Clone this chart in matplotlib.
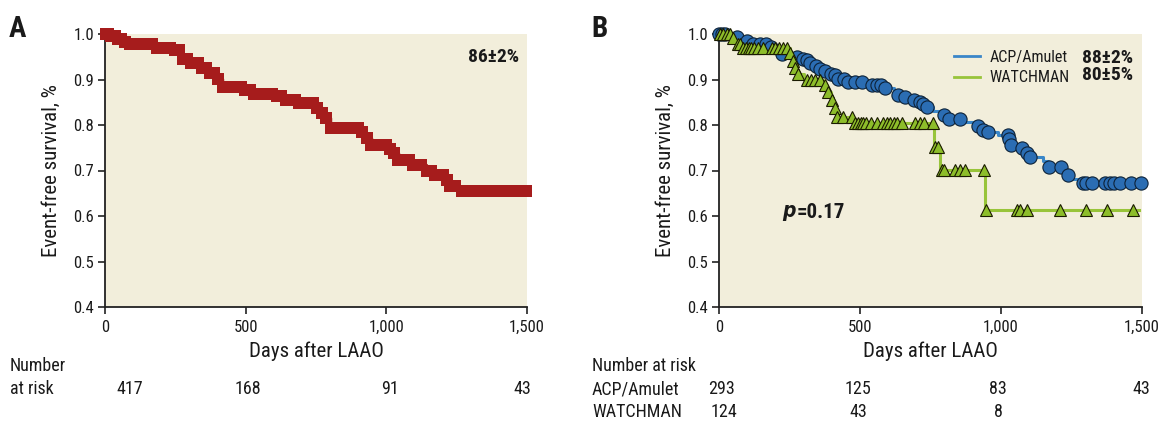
import numpy as np
import matplotlib
matplotlib.use("Agg")
import matplotlib.pyplot as plt
from matplotlib import font_manager
from matplotlib.lines import Line2D

# pick a condensed / narrow face if one is installed
ttf = font_manager.fontManager.ttflist
chosen = None
for key in ['RobotoCondensed-Regular', 'LiberationSansNarrow-Regular', 'OpenSans_Condensed-Regular',
            'OpenSansCondensed', 'DejaVuSansCondensed.ttf', 'Condensed', 'Narrow']:
    for f in ttf:
        if key in f.fname and f.style == 'normal' and f.weight in (400, 'normal', 'regular'):
            chosen = f
            break
    if chosen:
        break
if chosen is not None:
    plt.rcParams['font.family'] = [chosen.name, 'DejaVu Sans']
    plt.rcParams['font.stretch'] = chosen.stretch
else:
    plt.rcParams['font.family'] = ['DejaVu Sans']

# ---------------- data ----------------
# Panel A: overall cohort step function (event time, survival after event)
A_time = [0, 15, 35, 60, 85, 170, 240, 265, 300, 345, 370, 395, 415, 490, 520, 600, 640, 690,
          740, 770, 785, 800, 900, 925, 945, 1010, 1025, 1040, 1085, 1140, 1160, 1205, 1225, 1260]
A_surv = [1.0, 0.995, 0.988, 0.982, 0.977, 0.970, 0.964, 0.945, 0.936, 0.926, 0.914, 0.902, 0.883,
          0.876, 0.869, 0.863, 0.856, 0.848, 0.838, 0.826, 0.815, 0.793, 0.785, 0.772, 0.757,
          0.748, 0.738, 0.724, 0.712, 0.699, 0.690, 0.680, 0.665, 0.654]
A_censor = [3, 12, 22, 34, 46, 58, 72, 88, 104, 120, 136, 152, 168, 184, 200, 216, 232, 248, 262,
            276, 290, 304, 318, 332, 346, 360, 374, 388, 402, 418, 434, 450, 466, 482, 498, 514,
            530, 546, 562, 578, 594, 610, 626, 642, 658, 674, 690, 706, 722, 738, 754, 770, 786,
            802, 818, 834, 850, 866, 882, 898, 914, 930, 946, 955, 1000, 1012, 1026, 1040, 1054,
            1068, 1082, 1096, 1110, 1124, 1144, 1158, 1172, 1200, 1214, 1228, 1244, 1270, 1284,
            1298, 1312, 1326, 1340, 1354, 1370, 1384, 1398, 1412, 1426, 1440, 1454, 1468, 1482, 1496]

# Panel B: ACP/Amulet
ACP_time = [0, 40, 80, 110, 175, 190, 215, 270, 295, 305, 320, 335, 355, 370, 390, 405, 420, 450,
            530, 580, 620, 650, 685, 710, 725, 735, 760, 790, 810, 870, 910, 930, 950, 990, 1025,
            1035, 1065, 1085, 1100, 1150, 1165, 1230, 1240, 1285]
ACP_surv = [1.0, 0.993, 0.985, 0.979, 0.972, 0.963, 0.956, 0.950, 0.946, 0.942, 0.937, 0.930,
            0.924, 0.919, 0.913, 0.909, 0.902, 0.895, 0.888, 0.881, 0.867, 0.861, 0.856, 0.851,
            0.846, 0.840, 0.831, 0.823, 0.814, 0.806, 0.797, 0.789, 0.785, 0.778, 0.770, 0.757,
            0.749, 0.738, 0.730, 0.720, 0.708, 0.690, 0.682, 0.673]
ACP_censor = [0, 10, 20, 65, 100, 120, 145, 165, 185, 225, 278, 298, 311, 324, 344, 357, 377, 397,
              410, 423, 443, 456, 482, 508, 541, 561, 574, 587, 633, 659, 692, 712, 725, 736, 797,
              817, 856, 919, 935, 955, 1024, 1029, 1037, 1073, 1093, 1103, 1169, 1211, 1237, 1290,
              1303, 1323, 1369, 1388, 1401, 1421, 1461, 1497]
ACP_end = 1500

# Panel B: WATCHMAN
WM_time = [0, 40, 60, 80, 250, 258, 266, 276, 300, 370, 383, 396, 408, 416, 475, 762, 785, 945]
WM_surv = [1.0, 0.992, 0.978, 0.970, 0.958, 0.940, 0.926, 0.912, 0.900, 0.888, 0.872, 0.856,
           0.838, 0.818, 0.804, 0.752, 0.702, 0.613]
WM_censor = [5, 14, 28, 39, 50, 67, 76, 85, 95, 105, 115, 125, 140, 156, 188, 200, 212, 226, 240,
             252, 261, 269, 281, 312, 325, 340, 358, 376, 387, 400, 411, 418, 440, 471, 482, 492,
             502, 512, 522, 540, 560, 582, 595, 607, 620, 632, 649, 695, 712, 728, 758, 766, 778,
             790, 798, 837, 855, 872, 940, 948, 1056, 1067, 1093, 1209, 1301, 1376, 1468]
WM_end = 1490

xticks = [0, 500, 1000, 1500]
xticklabels = ['0', '500', '1,000', '1,500']
yticks = [0.4, 0.5, 0.6, 0.7, 0.8, 0.9, 1.0]
yticklabels = ['0.4', '0.5', '0.6', '0.7', '0.8', '0.9', '1.0']

A_risk = ['417', '168', '91', '43']
ACP_risk = ['293', '125', '83', '43']
WM_risk = ['124', '43', '8']
legend_labels = ['ACP/Amulet', 'WATCHMAN']
legend_pct = ['88±2%', '80±5%']

# ---------------- style ----------------
BG = '#F2EEDB'
RED = '#A61C1C'
BLUE_LINE = '#3A86C8'
BLUE_FACE = '#2B6DB3'
GREEN_LINE = '#98C43A'
GREEN_FACE = '#8DBD2A'
TXT = '#1a1a1a'
W, H = 1159, 429


def step_at(times, surv, t):
    idx = np.searchsorted(np.asarray(times), np.asarray(t), side='right') - 1
    return np.asarray(surv)[idx]


def style_axes(ax):
    ax.set_facecolor(BG)
    ax.set_xlim(0, 1500)
    ax.set_ylim(0.4, 1.0)
    for s in ['top', 'right']:
        ax.spines[s].set_visible(False)
    for s in ['left', 'bottom']:
        ax.spines[s].set_color('#222222')
        ax.spines[s].set_linewidth(1.3)
    ax.set_xticks(xticks)
    ax.set_xticklabels(xticklabels)
    ax.set_yticks(yticks)
    ax.set_yticklabels(yticklabels)
    ax.tick_params(axis='both', direction='out', length=5, width=1.2, color='#222222',
                   labelsize=12, labelcolor=TXT, pad=3)
    ax.tick_params(axis='x', pad=4)
    ax.set_xlabel('Days after LAAO', fontsize=15, color=TXT, labelpad=5)
    ax.set_ylabel('Event-free survival, %', fontsize=15, color=TXT, labelpad=9)


fig = plt.figure(figsize=(W / 100, H / 100), dpi=100)
axA = fig.add_axes([105 / W, 1 - 307 / H, 422 / W, 273 / H])
axB = fig.add_axes([719 / W, 1 - 307 / H, 423 / W, 273 / H])
style_axes(axA)
style_axes(axB)

# Panel A
axA.step(A_time + [1500], A_surv + [A_surv[-1]], where='post', color=RED, lw=2.5, clip_on=False)
axA.plot(A_censor, step_at(A_time, A_surv, A_censor), ls='none', marker='s', ms=8.5,
         color=RED, mew=0, clip_on=False, zorder=3)
fig.text(519 / W, 1 - 57 / H, '86±2%', ha='right', va='center',
         fontsize=14, fontweight='bold', color=TXT)

# Panel B
axB.step(WM_time + [WM_end], WM_surv + [WM_surv[-1]], where='post', color=GREEN_LINE, lw=2.2,
         clip_on=False, zorder=2)
axB.step(ACP_time + [ACP_end], ACP_surv + [ACP_surv[-1]], where='post', color=BLUE_LINE, lw=2.2,
         clip_on=False, zorder=2)
axB.plot(ACP_censor, step_at(ACP_time, ACP_surv, ACP_censor), ls='none', marker='o', ms=9.5,
         mfc=BLUE_FACE, mec='#0d2238', mew=0.8, clip_on=False, zorder=3)
axB.plot(WM_censor, step_at(WM_time, WM_surv, WM_censor), ls='none', marker='^', ms=8,
         mfc=GREEN_FACE, mec='#1a1a00', mew=0.8, clip_on=False, zorder=4)

handles = [Line2D([], [], color=BLUE_LINE, lw=2), Line2D([], [], color=GREEN_LINE, lw=2)]
leg = axB.legend(handles, legend_labels, loc='upper left',
                 bbox_to_anchor=((954 - 719) / 423, (307 - 50) / 273), frameon=False,
                 fontsize=11.5, handlelength=1.6, handletextpad=0.6, labelspacing=0.32,
                 borderaxespad=0, borderpad=0)
for t in leg.get_texts():
    t.set_color(TXT)
for i, p in enumerate(legend_pct):
    fig.text(1133 / W, 1 - (58 + 17.5 * i) / H, p, ha='right', va='center', fontsize=14,
             fontweight='bold', color=TXT)

fig.text(797 / W, 1 - 213 / H, r'$\bfit{p}$', ha='right', va='center',
         fontsize=15, color=TXT)
fig.text(797 / W, 1 - 213 / H, '=0.17', ha='left', va='center',
         fontsize=15, fontweight='bold', color=TXT)

# Panel letters
fig.text(9 / W, 1 - 29 / H, 'A', fontsize=21, fontweight='bold', va='center', ha='left', color=TXT)
fig.text(591 / W, 1 - 29 / H, 'B', fontsize=21, fontweight='bold', va='center', ha='left', color=TXT)

# Number at risk, panel A
RISK_FS = 13
fig.text(10 / W, 1 - 366 / H, 'Number', fontsize=RISK_FS, va='center', ha='left', color=TXT)
fig.text(10 / W, 1 - 389 / H, 'at risk', fontsize=RISK_FS, va='center', ha='left', color=TXT)
for x, r in zip([130, 248, 390, 522], A_risk):
    fig.text(x / W, 1 - 389 / H, r, fontsize=RISK_FS, va='center', ha='center', color=TXT)

# Number at risk, panel B
fig.text(592 / W, 1 - 366 / H, 'Number at risk', fontsize=RISK_FS, va='center', ha='left', color=TXT)
fig.text(592 / W, 1 - 389 / H, legend_labels[0], fontsize=RISK_FS, va='center', ha='left', color=TXT)
fig.text(592 / W, 1 - 412 / H, legend_labels[1], fontsize=RISK_FS, va='center', ha='left', color=TXT)
for x, r in zip([721, 858, 998, 1141], ACP_risk):
    fig.text(x / W, 1 - 389 / H, r, fontsize=RISK_FS, va='center', ha='center', color=TXT)
for x, r in zip([724, 858, 998], WM_risk):
    fig.text(x / W, 1 - 412 / H, r, fontsize=RISK_FS, va='center', ha='center', color=TXT)

fig.savefig('out.png', dpi=100)
